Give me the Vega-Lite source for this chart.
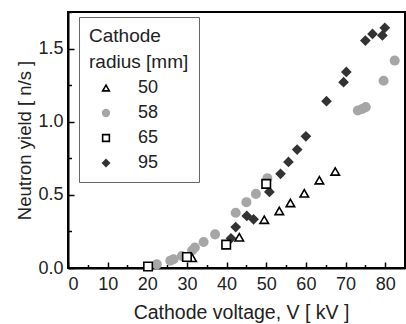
{
  "$schema": "https://vega.github.io/schema/vega-lite/v6.json",
  "width": 337,
  "height": 256,
  "autosize": {"type": "none"},
  "padding": {"left": 68, "top": 12, "right": 1, "bottom": 56},
  "config": {
    "view": {"stroke": "black", "strokeWidth": 2},
    "font": "Liberation Sans",
    "axis": {
      "domainColor": "black",
      "domainWidth": 2,
      "tickColor": "black",
      "tickWidth": 1.5,
      "grid": false,
      "labelFont": "Liberation Sans",
      "labelFontSize": 18,
      "labelColor": "#222",
      "titleFont": "Liberation Sans",
      "titleFontWeight": "normal",
      "titleColor": "#222"
    },
    "legend": {
      "titleFont": "Liberation Sans",
      "labelFont": "Liberation Sans"
    }
  },
  "data": {
    "values": [
      {"r": "58", "v": 22.4, "y": 0.025},
      {"r": "58", "v": 25.8, "y": 0.05},
      {"r": "58", "v": 26.6, "y": 0.06},
      {"r": "58", "v": 28.7, "y": 0.082},
      {"r": "58", "v": 31.3, "y": 0.12},
      {"r": "58", "v": 32.0, "y": 0.14},
      {"r": "58", "v": 34.2, "y": 0.178},
      {"r": "58", "v": 37.1, "y": 0.23},
      {"r": "58", "v": 42.3, "y": 0.378},
      {"r": "58", "v": 45.0, "y": 0.45},
      {"r": "58", "v": 47.4, "y": 0.507},
      {"r": "58", "v": 50.3, "y": 0.614},
      {"r": "58", "v": 73.1, "y": 1.077},
      {"r": "58", "v": 74.2, "y": 1.087},
      {"r": "58", "v": 75.1, "y": 1.1},
      {"r": "58", "v": 79.6, "y": 1.28},
      {"r": "58", "v": 82.4, "y": 1.418},
      {"r": "95", "v": 41.1, "y": 0.203},
      {"r": "95", "v": 42.3, "y": 0.28},
      {"r": "95", "v": 45.1, "y": 0.356},
      {"r": "95", "v": 46.8, "y": 0.333},
      {"r": "95", "v": 50.8, "y": 0.52},
      {"r": "95", "v": 53.6, "y": 0.644},
      {"r": "95", "v": 55.6, "y": 0.725},
      {"r": "95", "v": 57.8, "y": 0.81},
      {"r": "95", "v": 60.0, "y": 0.9},
      {"r": "95", "v": 65.2, "y": 1.14},
      {"r": "95", "v": 69.5, "y": 1.27},
      {"r": "95", "v": 70.2, "y": 1.34},
      {"r": "95", "v": 75.0, "y": 1.555},
      {"r": "95", "v": 76.8, "y": 1.6},
      {"r": "95", "v": 79.3, "y": 1.59},
      {"r": "95", "v": 79.9, "y": 1.642},
      {"r": "50", "v": 31.3, "y": 0.07},
      {"r": "50", "v": 43.2, "y": 0.21},
      {"r": "50", "v": 49.5, "y": 0.33},
      {"r": "50", "v": 53.3, "y": 0.39},
      {"r": "50", "v": 56.1, "y": 0.445},
      {"r": "50", "v": 59.6, "y": 0.51},
      {"r": "50", "v": 63.4, "y": 0.6},
      {"r": "50", "v": 67.4, "y": 0.66},
      {"r": "65", "v": 20.2, "y": 0.01},
      {"r": "65", "v": 30.0, "y": 0.075},
      {"r": "65", "v": 39.9, "y": 0.16},
      {"r": "65", "v": 50.0, "y": 0.575}
    ]
  },
  "mark": {"type": "point", "filled": false, "strokeWidth": 1.6, "opacity": 1, "size": 72},
  "encoding": {
    "x": {"field": "v", "type": "quantitative", "scale": {"domain": [0, 85], "nice": false, "zero": false},
      "axis": {"orient": "bottom", "values": [0, 5, 10, 15, 20, 25, 30, 35, 40, 45, 50, 55, 60, 65, 70, 75, 80, 85],
        "labelExpr": "datum.value % 10 === 0 ? datum.label : ''",
        "tickSize": {"condition": {"test": "datum.value % 10 === 0", "value": -6}, "value": -3.5},
        "labelPadding": 13,
        "title": "Cathode voltage, V [ kV ]", "titleFontSize": 19.5, "titlePadding": 10, "titleX": 173}},
    "y": {"field": "y", "type": "quantitative", "scale": {"domain": [0, 1.75], "nice": false},
      "axis": {"orient": "left", "values": [0, 0.25, 0.5, 0.75, 1.0, 1.25, 1.5, 1.75],
        "labelExpr": "(datum.value * 4) % 2 === 0 ? format(datum.value, '.1f') : ''",
        "tickSize": {"condition": {"test": "(datum.value * 4) % 2 === 0", "value": -6}, "value": -3.5},
        "labelPadding": 11,
        "title": "Neutron yield [ n/s ]", "titleFontSize": 18.5, "titlePadding": 3}},
    "shape": {"field": "r", "type": "nominal",
      "scale": {"domain": ["50", "58", "65", "95"], "range": ["triangle-up", "circle", "square", "diamond"]},
      "legend": {
        "title": ["Cathode", "\u00a0radius [mm]"],
        "orient": "none", "legendX": 11, "legendY": 5,
        "strokeColor": "#666",
        "padding": 10,
        "titleFontSize": 19, "titleFontWeight": "normal", "titleColor": "#222", "titleLineHeight": 26, "titlePadding": 7,
        "labelFontSize": 18, "labelColor": "#222",
        "symbolOffset": 8, "labelOffset": 23, "rowPadding": 7,
        "symbolSize": 45, "symbolStrokeWidth": 1.6
      }},
    "fill": {"field": "r", "type": "nominal",
      "scale": {"domain": ["50", "58", "65", "95"], "range": ["white", "#a6a6a6", "white", "#333333"]}},
    "stroke": {"field": "r", "type": "nominal",
      "scale": {"domain": ["50", "58", "65", "95"], "range": ["black", "#a6a6a6", "black", "#333333"]}}
  }
}
